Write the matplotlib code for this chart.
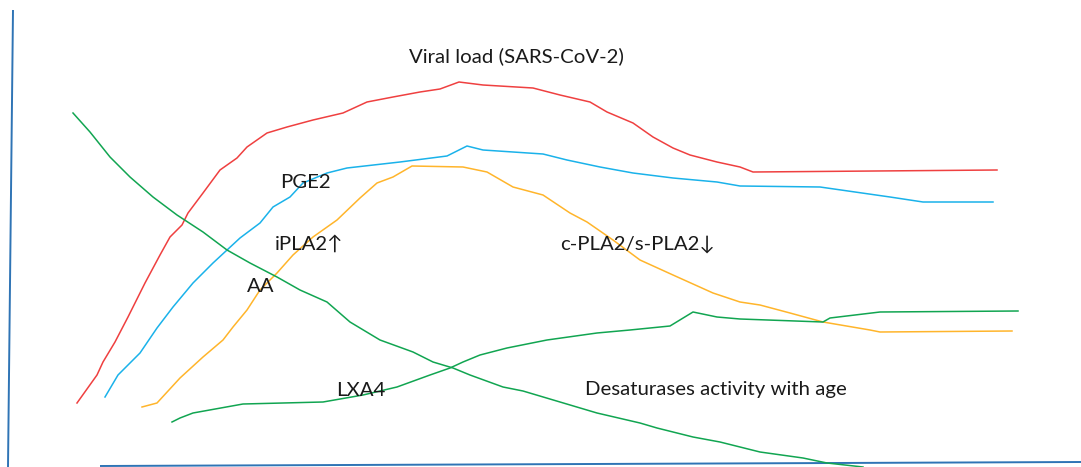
import matplotlib
matplotlib.use("Agg")
import matplotlib.pyplot as plt

# Curves traced in image pixel coordinates (x, y with y downward)
viral_x = [77, 97, 103, 115, 128, 145, 160, 170, 182, 188, 203, 220, 237, 247, 267, 287, 313, 343, 367, 393, 420,
           440, 459, 483, 533, 560, 590, 607, 633, 653, 673, 690, 717, 740, 753, 997]
viral_y = [403, 375, 362, 342, 317, 283, 255, 237, 225, 213, 193, 170, 158, 147, 133, 127, 120, 113, 102, 97, 92,
           89, 82, 85, 88, 95, 102, 112, 123, 137, 148, 155, 162, 167, 172, 170]

pge2_x = [105, 118, 140, 157, 173, 193, 213, 240, 260, 273, 290, 303, 327, 347, 400, 447, 467, 483, 543, 567, 600,
          633, 673, 717, 740, 820, 890, 923, 993]
pge2_y = [397, 375, 353, 328, 307, 283, 263, 238, 223, 207, 197, 183, 173, 168, 162, 156, 146, 150, 154, 160, 167,
          173, 178, 182, 186, 187, 197, 202, 202]

pla2_x = [142, 157, 180, 203, 223, 233, 247, 260, 277, 293, 313, 337, 360, 377, 393, 412, 463, 487, 513, 543, 570,
          587, 613, 640, 673, 713, 740, 760, 790, 823, 870, 880, 1012]
pla2_y = [407, 403, 378, 357, 340, 327, 310, 290, 273, 255, 237, 220, 198, 183, 177, 166, 167, 172, 187, 195, 213,
          222, 240, 260, 275, 293, 302, 305, 313, 322, 330, 332, 331]

lxa4_x = [172, 180, 193, 243, 323, 363, 397, 430, 450, 463, 480, 507, 547, 597, 630, 670, 693, 717, 740, 823, 830,
          880, 1018]
lxa4_y = [422, 418, 413, 404, 402, 395, 387, 375, 368, 362, 355, 348, 340, 333, 330, 326, 312, 317, 319, 322, 318,
          312, 311]

desat_x = [73, 90, 110, 130, 153, 177, 203, 227, 250, 277, 300, 327, 350, 380, 413, 433, 453, 470, 503, 523, 560,
           597, 640, 657, 693, 720, 760, 803, 827, 863]
desat_y = [113, 132, 157, 177, 197, 215, 232, 250, 263, 277, 290, 302, 322, 340, 352, 362, 368, 375, 387, 391, 402,
           413, 423, 428, 437, 442, 452, 458, 463, 467]

axis_v_x = [13, 8]
axis_v_y = [10, 467]
axis_h_x = [100, 1081]
axis_h_y = [466, 462]

labels = ["Viral load (SARS-CoV-2)", "PGE2", "iPLA2\u2191", "AA", "c-PLA2/s-PLA2\u2193", "LXA4",
          "Desaturases activity with age"]
label_x = [409, 280, 275, 247, 560, 336, 585]
label_y = [56, 182, 244, 286, 244, 390, 390]

fig = plt.figure(figsize=(10.81, 4.67), dpi=100)
ax = fig.add_axes([0, 0, 1, 1])
ax.set_xlim(0, 1081)
ax.set_ylim(467, 0)
ax.axis("off")

lw = 1.1
ax.plot(axis_v_x, axis_v_y, color="#2f74b5", lw=1.4, solid_capstyle="butt")
ax.plot(axis_h_x, axis_h_y, color="#2f74b5", lw=1.4, solid_capstyle="butt")
ax.plot(viral_x, viral_y, color="#ef4040", lw=lw)
ax.plot(pge2_x, pge2_y, color="#1ab2ea", lw=lw)
ax.plot(pla2_x, pla2_y, color="#ffb52b", lw=lw)
ax.plot(lxa4_x, lxa4_y, color="#11a551", lw=lw)
ax.plot(desat_x, desat_y, color="#11a551", lw=lw)

for t, x, y in zip(labels, label_x, label_y):
    ax.text(x, y, t, fontsize=14.7, color="#1a1a1a", ha="left", va="center",
            family=["Lato", "DejaVu Sans"])

fig.savefig("out.png", dpi=100)
